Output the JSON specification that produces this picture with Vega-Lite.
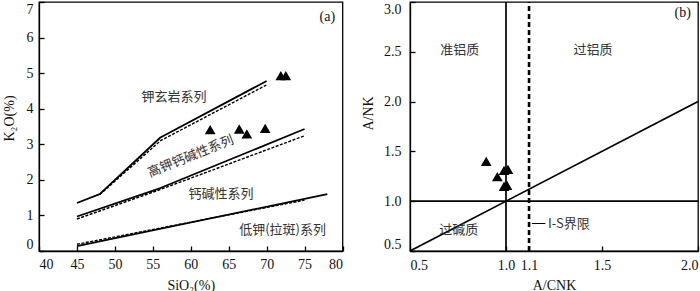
{
  "$schema": "https://vega.github.io/schema/vega-lite/v6.json",
  "background": "white",
  "padding": {"left": 1, "top": 0, "right": 5, "bottom": 0},
  "spacing": 67,
  "bounds": "flush",
  "config": {
    "view": {"stroke": "black", "strokeWidth": 1.3},
    "axis": {
      "grid": false, "domainColor": "black", "domainWidth": 1.3,
      "tickColor": "black", "tickSize": -5, "tickWidth": 1.3,
      "labelFont": "Liberation Serif", "labelFontSize": 14, "labelColor": "#111",
      "titleFont": "Liberation Serif", "titleFontSize": 14, "titleFontWeight": "normal", "titleColor": "#111",
      "labelFlush": true, "labelOverlap": false
    },
    "text": {"font": "Noto Sans CJK SC", "fontSize": 13, "color": "#333"}
  },
  "datasets": {
    "aLines": [
      {"series": "s1", "style": "solid", "x": 45, "y": 1.35},
      {"series": "s1", "style": "solid", "x": 48, "y": 1.6},
      {"series": "s1", "style": "solid", "x": 56, "y": 3.19},
      {"series": "s1", "style": "solid", "x": 70, "y": 4.78},
      {"series": "s1d", "style": "dash", "x": 48, "y": 1.58},
      {"series": "s1d", "style": "dash", "x": 56, "y": 3.1},
      {"series": "s1d", "style": "dash", "x": 70, "y": 4.67},
      {"series": "s2", "style": "solid", "x": 45, "y": 0.97},
      {"series": "s2", "style": "solid", "x": 56, "y": 1.77},
      {"series": "s2", "style": "solid", "x": 75, "y": 3.43},
      {"series": "s2d", "style": "dash", "x": 45, "y": 0.9},
      {"series": "s2d", "style": "dash", "x": 56, "y": 1.73},
      {"series": "s2d", "style": "dash", "x": 75, "y": 3.24},
      {"series": "s3", "style": "solid", "x": 45, "y": 0.14},
      {"series": "s3", "style": "solid", "x": 78, "y": 1.6},
      {"series": "s3d", "style": "dash", "x": 45, "y": 0.19},
      {"series": "s3d", "style": "dash", "x": 75, "y": 1.43}
    ],
    "aPts": [
      {"x": 62.56, "y": 3.41}, {"x": 66.39, "y": 3.43}, {"x": 67.39, "y": 3.29},
      {"x": 69.81, "y": 3.45}, {"x": 71.87, "y": 4.93}, {"x": 72.53, "y": 4.93}
    ],
    "aText": [
      {"x": 57.8, "y": 4.34, "label": "钾玄岩系列"},
      {"x": 64.0, "y": 1.61, "label": "钙碱性系列"},
      {"x": 72.1, "y": 0.58, "label": "低钾(拉斑)系列"}
    ],
    "aRot": [{"x": 60.0, "y": 2.66, "label": "高钾钙碱性系列"}],
    "aTag": [{"x": 78.0, "y": 6.58, "label": "(a)"}],
    "bLines": [
      {"series": "v1", "style": "solid", "x": 1.0, "y": 0.5},
      {"series": "v1", "style": "solid", "x": 1.0, "y": 3.0},
      {"series": "h1", "style": "solid", "x": 0.5, "y": 1.0},
      {"series": "h1", "style": "solid", "x": 2.0, "y": 1.0},
      {"series": "d1", "style": "solid", "x": 0.5, "y": 0.5},
      {"series": "d1", "style": "solid", "x": 2.0, "y": 2.0},
      {"series": "v2", "style": "dash", "x": 1.12, "y": 0.5},
      {"series": "v2", "style": "dash", "x": 1.12, "y": 3.0},
      {"series": "ld", "style": "thin", "x": 1.135, "y": 0.776},
      {"series": "ld", "style": "thin", "x": 1.205, "y": 0.776}
    ],
    "bPts": [
      {"x": 0.897, "y": 1.40}, {"x": 0.955, "y": 1.246}, {"x": 0.99, "y": 1.31},
      {"x": 1.01, "y": 1.32}, {"x": 0.99, "y": 1.15}, {"x": 1.005, "y": 1.16}
    ],
    "bText": [
      {"x": 0.759, "y": 2.52, "label": "准铝质"},
      {"x": 1.453, "y": 2.52, "label": "过铝质"},
      {"x": 0.754, "y": 0.709, "label": "过碱质"}
    ],
    "bIS": [{"x": 1.219, "y": 0.776, "label": "I-S界限"}],
    "bTag": [{"x": 1.92, "y": 2.89, "label": "(b)"}]
  },
  "hconcat": [
    {
      "width": 303.5,
      "height": 249,
      "encoding": {
        "x": {"field": "x", "type": "quantitative",
              "scale": {"domain": [40, 80], "nice": false, "zero": false},
              "axis": {"values": [40, 45, 50, 55, 60, 65, 70, 75, 80], "title": "SiO₂(%)", "labelPadding": 11, "titleY": 27}},
        "y": {"field": "y", "type": "quantitative",
              "scale": {"domain": [0, 7], "nice": false, "zero": false},
              "axis": {"values": [0, 1, 2, 3, 4, 5, 6, 7], "title": "K₂O(%)", "labelPadding": 11, "titleX": -29.5, "titleY": 116, "titleBaseline": "middle"}}
      },
      "layer": [
        {
          "data": {"name": "aLines"},
          "transform": [{"filter": "datum.style === 'solid'"}],
          "mark": {"type": "line", "color": "black", "strokeWidth": 1.8, "strokeJoin": "bevel", "clip": true},
          "encoding": {"detail": {"field": "series"}}
        },
        {
          "data": {"name": "aLines"},
          "transform": [{"filter": "datum.style === 'dash'"}],
          "mark": {"type": "line", "color": "black", "strokeWidth": 1.4, "strokeDash": [3, 1.5], "strokeJoin": "bevel", "clip": true},
          "encoding": {"detail": {"field": "series"}}
        },
        {
          "data": {"name": "aPts"},
          "mark": {"type": "point", "shape": "triangle-up", "filled": true, "color": "black", "opacity": 1, "size": 115}
        },
        {
          "data": {"name": "aText"},
          "mark": {"type": "text", "align": "center", "baseline": "middle"},
          "encoding": {"text": {"field": "label"}}
        },
        {
          "data": {"name": "aRot"},
          "mark": {"type": "text", "align": "center", "baseline": "middle", "angle": -22},
          "encoding": {"text": {"field": "label"}}
        },
        {
          "data": {"name": "aTag"},
          "mark": {"type": "text", "align": "center", "baseline": "middle", "font": "Liberation Serif", "fontSize": 14, "color": "#111"},
          "encoding": {"text": {"field": "label"}}
        }
      ]
    },
    {
      "width": 288,
      "height": 249,
      "encoding": {
        "x": {"field": "x", "type": "quantitative",
              "scale": {"domain": [0.5, 2.0], "nice": false, "zero": false},
              "axis": {"values": [0.5, 1.0, 1.12, 1.5, 2.0], "format": ".1f", "title": "A/CNK", "labelPadding": 12, "titleY": 27}},
        "y": {"field": "y", "type": "quantitative",
              "scale": {"domain": [0.5, 3.0], "nice": false, "zero": false},
              "axis": {"values": [0.5, 1.0, 1.5, 2.0, 2.5, 3.0], "format": ".1f", "title": "A/NK", "labelPadding": 14, "titleX": -42, "titleY": 111, "titleBaseline": "middle"}}
      },
      "layer": [
        {
          "data": {"name": "bLines"},
          "transform": [{"filter": "datum.style === 'solid'"}],
          "mark": {"type": "line", "color": "black", "strokeWidth": 1.7, "strokeJoin": "bevel", "clip": true},
          "encoding": {"detail": {"field": "series"}}
        },
        {
          "data": {"name": "bLines"},
          "transform": [{"filter": "datum.style === 'dash'"}],
          "mark": {"type": "line", "color": "black", "strokeWidth": 2.6, "strokeDash": [5, 3], "strokeJoin": "bevel", "clip": true},
          "encoding": {"detail": {"field": "series"}}
        },
        {
          "data": {"name": "bLines"},
          "transform": [{"filter": "datum.style === 'thin'"}],
          "mark": {"type": "line", "color": "black", "strokeWidth": 1, "strokeJoin": "bevel", "clip": true},
          "encoding": {"detail": {"field": "series"}}
        },
        {
          "data": {"name": "bPts"},
          "mark": {"type": "point", "shape": "triangle-up", "filled": true, "color": "black", "opacity": 1, "size": 115}
        },
        {
          "data": {"name": "bText"},
          "mark": {"type": "text", "align": "center", "baseline": "middle"},
          "encoding": {"text": {"field": "label"}}
        },
        {
          "data": {"name": "bIS"},
          "mark": {"type": "text", "align": "left", "baseline": "middle"},
          "encoding": {"text": {"field": "label"}}
        },
        {
          "data": {"name": "bTag"},
          "mark": {"type": "text", "align": "center", "baseline": "middle", "font": "Liberation Serif", "fontSize": 14, "color": "#111"},
          "encoding": {"text": {"field": "label"}}
        }
      ]
    }
  ]
}
